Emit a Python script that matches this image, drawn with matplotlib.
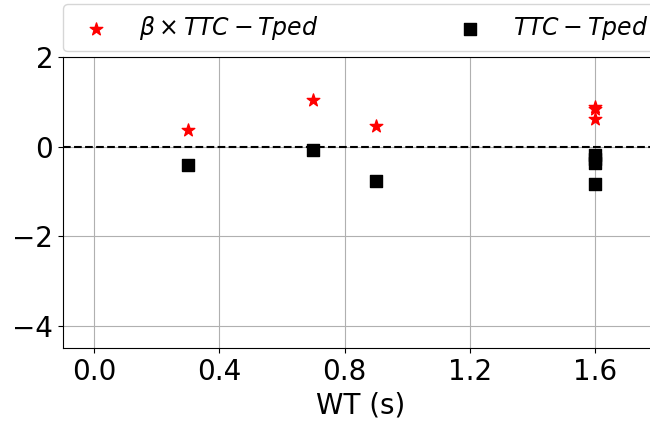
import matplotlib
matplotlib.use("Agg")
import matplotlib.pyplot as plt

wt_star = [0.3, 0.7, 0.9, 1.6, 1.6, 1.6]
beta_ttc_tped = [0.38, 1.05, 0.47, 0.89, 0.85, 0.61]
wt_sq = [0.3, 0.7, 0.9, 1.6, 1.6, 1.6, 1.6]
ttc_tped = [-0.42, -0.07, -0.76, -0.18, -0.27, -0.36, -0.83]
xticks = [0.0, 0.4, 0.8, 1.2, 1.6]
yticks = [-4, -2, 0, 2]

fig = plt.figure(figsize=(6.5, 4.21), dpi=100)
ax = fig.add_axes([0.097, 0.1734, 0.9146, 0.691])
ax.scatter(wt_star, beta_ttc_tped, marker='*', s=90, color='red',
           label=r'$\beta \times TTC - Tped$', zorder=3)
ax.scatter(wt_sq, ttc_tped, marker='s', s=85, color='black',
           label=r'$TTC - Tped$', zorder=3)
ax.axhline(0, color='black', linestyle='--', linewidth=1.5, zorder=2)
ax.set_xlim(-0.1, 1.8)
ax.set_ylim(-4.5, 2)
ax.set_xticks(xticks)
ax.set_yticks(yticks)
ax.set_xticklabels([f"{v:.1f}" for v in xticks])
ax.set_yticklabels([f"{v}".replace('-', '\u2212') for v in yticks])
ax.tick_params(labelsize=20)
ax.grid(True, color='#b0b0b0', linewidth=0.8)
ax.set_axisbelow(True)
ax.set_xlabel('WT (s)', fontsize=20)
ax.legend(loc='lower left', bbox_to_anchor=(0, 1.02, 1, 0.2), mode='expand',
          ncol=2, fontsize=17, markerscale=1.0, borderaxespad=0)
fig.savefig('out.png', dpi=100)
